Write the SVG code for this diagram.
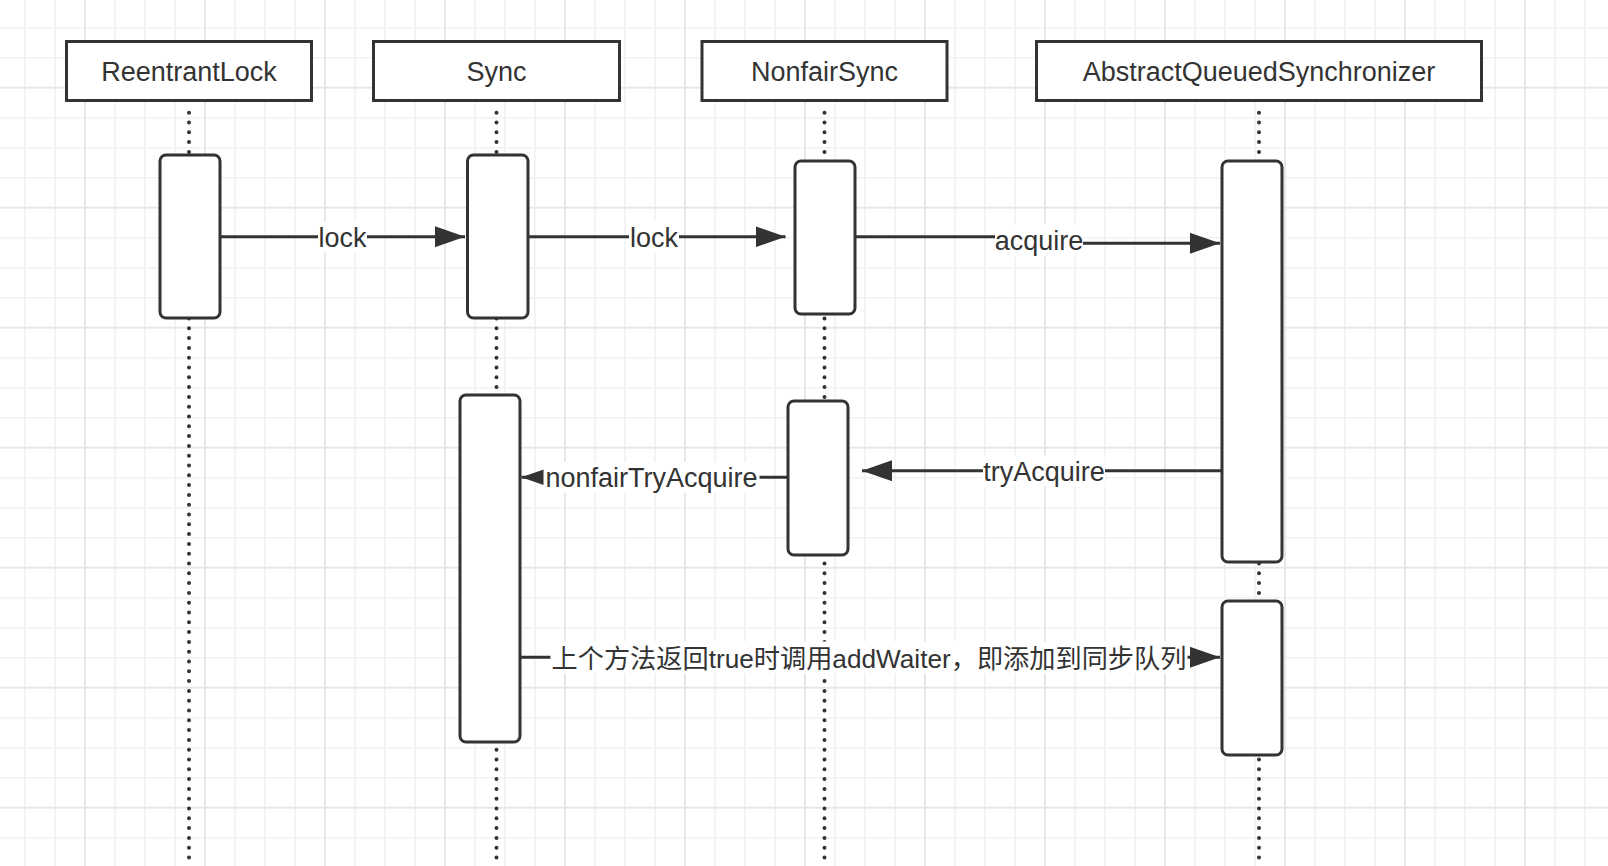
<svg xmlns="http://www.w3.org/2000/svg" width="1608" height="866" viewBox="0 0 1608 866">
<style>
.minor{stroke:#f2f2f2;stroke-width:1.6;fill:none}
.major{stroke:#e6e6e6;stroke-width:1.8;fill:none}
.head{fill:#fff;stroke:#333;stroke-width:3}
.act{fill:#fff;stroke:#333;stroke-width:3}
.life{stroke:#333;stroke-width:4;stroke-linecap:round;stroke-dasharray:0 9.8;fill:none}
.ht{font-family:"Liberation Sans","Noto Sans CJK SC",sans-serif;font-size:27px;fill:#333;text-anchor:middle}
.edge{stroke:#333;stroke-width:3;fill:none;marker-end:url(#arr)}
.lbg{fill:#fff}
.lt{font-family:"Liberation Sans","Noto Sans CJK SC",sans-serif;font-size:27px;fill:#333;text-anchor:middle}
.cn{font-size:26.2px}
</style>
<defs>
<marker id="arr" viewBox="0 0 30 21" refX="30" refY="10.5" markerWidth="30" markerHeight="21" markerUnits="userSpaceOnUse" orient="auto">
<path d="M0,0 L30,10.5 L0,21 Z" fill="#333"/>
</marker>
</defs>
<rect x="0" y="0" width="1608" height="866" fill="#fff"/>
<g id="grid">
<path class="minor" d="M25 0v866m30-866v866m30-866v866m30-866v866m30-866v866m30-866v866m30-866v866m30-866v866m30-866v866m30-866v866m30-866v866m30-866v866m30-866v866m30-866v866m30-866v866m30-866v866m30-866v866m30-866v866m30-866v866m30-866v866m30-866v866m30-866v866m30-866v866m30-866v866m30-866v866m30-866v866m30-866v866m30-866v866m30-866v866m30-866v866m30-866v866m30-866v866m30-866v866m30-866v866m30-866v866m30-866v866m30-866v866m30-866v866m30-866v866m30-866v866m30-866v866m30-866v866m30-866v866m30-866v866m30-866v866m30-866v866m30-866v866m30-866v866m30-866v866m30-866v866m30-866v866m30-866v866m30-866v866"/>
<path class="minor" d="M0 27.7h1608m-1608 30h1608m-1608 30h1608m-1608 30h1608m-1608 30h1608m-1608 30h1608m-1608 30h1608m-1608 30h1608m-1608 30h1608m-1608 30h1608m-1608 30h1608m-1608 30h1608m-1608 30h1608m-1608 30h1608m-1608 30h1608m-1608 30h1608m-1608 30h1608m-1608 30h1608m-1608 30h1608m-1608 30h1608m-1608 30h1608m-1608 30h1608m-1608 30h1608m-1608 30h1608m-1608 30h1608m-1608 30h1608m-1608 30h1608m-1608 30h1608"/>
<path class="major" d="M85 0v866m120-866v866m120-866v866m120-866v866m120-866v866m120-866v866m120-866v866m120-866v866m120-866v866m120-866v866m120-866v866m120-866v866m120-866v866"/>
<path class="major" d="M0 87.7h1608m-1608 120h1608m-1608 120h1608m-1608 120h1608m-1608 120h1608m-1608 120h1608m-1608 120h1608"/>
</g>
<g id="node-reentrantlock">
<line class="life" x1="189" y1="112.7" x2="189" y2="866"/>
<rect class="head" x="66.5" y="41.5" width="245" height="59"/>
<text class="ht" x="189" y="81">ReentrantLock</text>
<rect class="act" x="160" y="155" width="60" height="163" rx="6"/>
</g>
<g id="node-sync">
<line class="life" x1="496.5" y1="112.7" x2="496.5" y2="866"/>
<rect class="head" x="373.5" y="41.5" width="246" height="59"/>
<text class="ht" x="496.5" y="81">Sync</text>
<rect class="act" x="467.5" y="155" width="60.5" height="163" rx="6"/>
<rect class="act" x="460" y="395" width="60" height="347" rx="6"/>
</g>
<g id="node-nonfairsync">
<line class="life" x1="824.5" y1="112.7" x2="824.5" y2="866"/>
<rect class="head" x="702" y="41.5" width="245" height="59"/>
<text class="ht" x="824.5" y="81">NonfairSync</text>
<rect class="act" x="795" y="161" width="60" height="153" rx="6"/>
<rect class="act" x="788" y="401" width="60" height="154" rx="6"/>
</g>
<g id="node-aqs">
<line class="life" x1="1259" y1="112.7" x2="1259" y2="866"/>
<rect class="head" x="1036.5" y="41.5" width="445" height="59"/>
<text class="ht" x="1259" y="81">AbstractQueuedSynchronizer</text>
<rect class="act" x="1222" y="161" width="60" height="401" rx="6"/>
<rect class="act" x="1222" y="601" width="60" height="154" rx="6"/>
</g>
<g id="connectors">
<path class="edge" d="M221 236.7H465"/>
<path class="edge" d="M529 236.7H785.5"/>
<path class="edge" d="M856 236.7H1038V243.3H1220"/>
<path class="edge" d="M1221 470.7H862"/>
<path class="edge" d="M787 477.3H521.5"/>
<path class="edge" d="M520.5 657.3H1220"/>
<rect class="lbg" x="318" y="221.5" width="49" height="31"/>
<text class="lt" x="342.5" y="246.7">lock</text>
<rect class="lbg" x="629" y="221.5" width="50" height="31"/>
<text class="lt" x="654" y="246.7">lock</text>
<rect class="lbg" x="995" y="224.5" width="88" height="32"/>
<text class="lt" x="1039" y="249.5">acquire</text>
<rect class="lbg" x="983" y="455.5" width="122" height="31"/>
<text class="lt" x="1044" y="480.5">tryAcquire</text>
<rect class="lbg" x="543.5" y="462" width="216" height="31"/>
<text class="lt" x="651.5" y="487">nonfairTryAcquire</text>
<rect class="lbg" x="550.5" y="641.5" width="637" height="32"/>
<text class="lt cn" x="869" y="667.5">上个方法返回true时调用addWaiter，即添加到同步队列</text>
</g>
</svg>
